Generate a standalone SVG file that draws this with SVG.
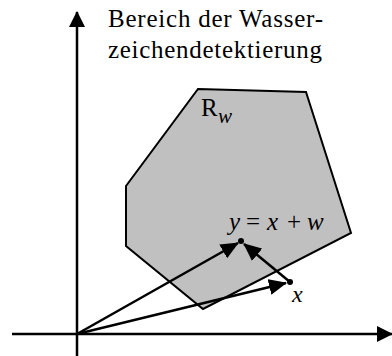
<svg xmlns="http://www.w3.org/2000/svg" width="392" height="356" viewBox="0 0 392 356">
<style>
.ax{stroke:#000;stroke-width:2.5;fill:none}
.vec{stroke:#000;stroke-width:2.5;fill:none}
.t{font-family:"Liberation Serif","Times New Roman",serif;fill:#000}
.i{font-style:italic}
</style>
<defs>
<marker id="ah" markerUnits="userSpaceOnUse" markerWidth="18" markerHeight="16" viewBox="0 0 18 16" refX="17" refY="8" orient="auto">
<path d="M0,0 L18,8 L0,16 Z" fill="#000"/>
</marker>
<marker id="axh" markerUnits="userSpaceOnUse" markerWidth="16" markerHeight="16" viewBox="0 0 16 16" refX="15" refY="8" orient="auto">
<path d="M0,0 L16,8 L0,16 Z" fill="#000"/>
</marker>
</defs>
<g id="region">
<polygon points="198,89 306,92 351,233 203,309 126,246 126,186" fill="#c0c0c0" stroke="#000" stroke-width="2"/>
<text class="t" x="201" y="116" font-size="25">R</text>
<text class="t i" x="218" y="123" font-size="21">w</text>
</g>
<g id="title">
<text class="t" x="108" y="27" font-size="25" textLength="215" lengthAdjust="spacing">Bereich der Wasser-</text>
<text class="t" x="108" y="58" font-size="25" textLength="214" lengthAdjust="spacing">zeichendetektierung</text>
</g>
<g id="axes">
<line class="ax" x1="77" y1="356" x2="77" y2="12" marker-end="url(#axh)"/>
<line class="ax" x1="12" y1="334" x2="392" y2="334" marker-end="url(#axh)"/>
</g>
<g id="point-y">
<circle cx="241" cy="241" r="3" fill="#000"/>
<text class="t" y="230" font-size="25"><tspan class="i" x="229">y</tspan><tspan x="246">=</tspan><tspan class="i" x="267">x</tspan><tspan x="287">+</tspan><tspan class="i" x="307">w</tspan></text>
</g>
<g id="point-x">
<circle cx="290" cy="282" r="3" fill="#000"/>
<text class="t i" x="292" y="302" font-size="24">x</text>
</g>
<g id="connectors">
<line class="vec" x1="77" y1="334" x2="238" y2="243" marker-end="url(#ah)"/>
<line class="vec" x1="77" y1="334" x2="286" y2="283" marker-end="url(#ah)"/>
<line class="vec" x1="290" y1="282" x2="244" y2="244" marker-end="url(#ah)"/>
</g>
</svg>
